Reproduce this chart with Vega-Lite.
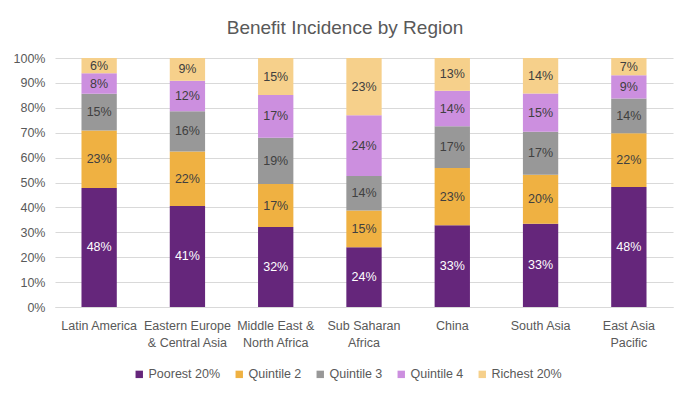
{
  "$schema": "https://vega.github.io/schema/vega-lite/v6.json",
  "width": 618,
  "height": 249,
  "autosize": {"type": "none"},
  "padding": {"left": 55, "top": 58, "right": 18, "bottom": 90},
  "title": {"text": "Benefit Incidence by Region", "fontSize": 19, "font": "Liberation Sans", "fontWeight": "normal", "color": "#595959", "anchor": "middle", "dx": -19, "offset": 14},
  "data": {"values": [
    {"region": "Latin America", "group": "Poorest 20%", "k": 1, "v": 0.478},
    {"region": "Latin America", "group": "Quintile 2", "k": 2, "v": 0.231},
    {"region": "Latin America", "group": "Quintile 3", "k": 3, "v": 0.147},
    {"region": "Latin America", "group": "Quintile 4", "k": 4, "v": 0.083},
    {"region": "Latin America", "group": "Richest 20%", "k": 5, "v": 0.061},
    {"region": "Eastern Europe & Central Asia", "group": "Poorest 20%", "k": 1, "v": 0.406},
    {"region": "Eastern Europe & Central Asia", "group": "Quintile 2", "k": 2, "v": 0.219},
    {"region": "Eastern Europe & Central Asia", "group": "Quintile 3", "k": 3, "v": 0.161},
    {"region": "Eastern Europe & Central Asia", "group": "Quintile 4", "k": 4, "v": 0.123},
    {"region": "Eastern Europe & Central Asia", "group": "Richest 20%", "k": 5, "v": 0.091},
    {"region": "Middle East & North Africa", "group": "Poorest 20%", "k": 1, "v": 0.321},
    {"region": "Middle East & North Africa", "group": "Quintile 2", "k": 2, "v": 0.173},
    {"region": "Middle East & North Africa", "group": "Quintile 3", "k": 3, "v": 0.186},
    {"region": "Middle East & North Africa", "group": "Quintile 4", "k": 4, "v": 0.171},
    {"region": "Middle East & North Africa", "group": "Richest 20%", "k": 5, "v": 0.149},
    {"region": "Sub Saharan Africa", "group": "Poorest 20%", "k": 1, "v": 0.240},
    {"region": "Sub Saharan Africa", "group": "Quintile 2", "k": 2, "v": 0.148},
    {"region": "Sub Saharan Africa", "group": "Quintile 3", "k": 3, "v": 0.138},
    {"region": "Sub Saharan Africa", "group": "Quintile 4", "k": 4, "v": 0.244},
    {"region": "Sub Saharan Africa", "group": "Richest 20%", "k": 5, "v": 0.230},
    {"region": "China", "group": "Poorest 20%", "k": 1, "v": 0.328},
    {"region": "China", "group": "Quintile 2", "k": 2, "v": 0.230},
    {"region": "China", "group": "Quintile 3", "k": 3, "v": 0.168},
    {"region": "China", "group": "Quintile 4", "k": 4, "v": 0.142},
    {"region": "China", "group": "Richest 20%", "k": 5, "v": 0.132},
    {"region": "South Asia", "group": "Poorest 20%", "k": 1, "v": 0.334},
    {"region": "South Asia", "group": "Quintile 2", "k": 2, "v": 0.197},
    {"region": "South Asia", "group": "Quintile 3", "k": 3, "v": 0.173},
    {"region": "South Asia", "group": "Quintile 4", "k": 4, "v": 0.153},
    {"region": "South Asia", "group": "Richest 20%", "k": 5, "v": 0.143},
    {"region": "East Asia Pacific", "group": "Poorest 20%", "k": 1, "v": 0.482},
    {"region": "East Asia Pacific", "group": "Quintile 2", "k": 2, "v": 0.216},
    {"region": "East Asia Pacific", "group": "Quintile 3", "k": 3, "v": 0.139},
    {"region": "East Asia Pacific", "group": "Quintile 4", "k": 4, "v": 0.094},
    {"region": "East Asia Pacific", "group": "Richest 20%", "k": 5, "v": 0.069}
  ]},
  "transform": [
    {"stack": "v", "groupby": ["region"], "sort": [{"field": "k", "order": "ascending"}], "as": ["y0", "y1"]}
  ],
  "encoding": {
    "x": {
      "field": "region", "type": "nominal", "sort": null, "title": null,
      "scale": {"paddingInner": 0.6, "paddingOuter": 0.3},
      "axis": {
        "labelAngle": 0, "ticks": false, "domainColor": "#d9d9d9", "labelColor": "#595959",
        "labelFontSize": 12.5, "labelFont": "Liberation Sans", "labelPadding": 12, "labelLineHeight": 17,
        "labelBaseline": "top",
        "labelExpr": "datum.value == 'Eastern Europe & Central Asia' ? ['Eastern Europe', '& Central Asia'] : datum.value == 'Middle East & North Africa' ? ['Middle East &', 'North Africa'] : datum.value == 'Sub Saharan Africa' ? ['Sub Saharan', 'Africa'] : datum.value == 'East Asia Pacific' ? ['East Asia', 'Pacific'] : datum.value"
      }
    }
  },
  "layer": [
    {
      "mark": {"type": "bar"},
      "encoding": {
        "y": {"field": "y1", "type": "quantitative", "title": null,
          "scale": {"domain": [0, 1], "nice": false},
          "axis": {"format": ".0%", "values": [0,0.1,0.2,0.3,0.4,0.5,0.6,0.7,0.8,0.9,1], "labelOverlap": false, "ticks": false, "domain": false, "gridColor": "#d9d9d9", "labelColor": "#595959", "labelFontSize": 12.5, "labelFont": "Liberation Sans", "labelPadding": 10}},
        "y2": {"field": "y0"},
        "color": {
          "field": "group", "type": "nominal", "title": null,
          "scale": {"domain": ["Poorest 20%", "Quintile 2", "Quintile 3", "Quintile 4", "Richest 20%"],
                    "range": ["#65267B", "#EFB142", "#989898", "#CC8FDF", "#F6D08B"]},
          "legend": {"orient": "none", "legendX": 78, "legendY": 310, "direction": "horizontal",
                     "symbolType": "square", "symbolSize": 55, "symbolStrokeWidth": 0,
                     "labelFontSize": 12.5, "labelFont": "Liberation Sans", "labelColor": "#595959", "columnPadding": 12, "labelOffset": 3}
        }
      }
    },
    {
      "transform": [{"calculate": "(datum.y0 + datum.y1) / 2", "as": "ymid"}],
      "mark": {"type": "text", "fontSize": 12.5, "font": "Liberation Sans", "baseline": "middle"},
      "encoding": {
        "y": {"field": "ymid", "type": "quantitative", "title": null,
          "scale": {"domain": [0, 1], "nice": false},
          "axis": {"format": ".0%", "values": [0,0.1,0.2,0.3,0.4,0.5,0.6,0.7,0.8,0.9,1], "labelOverlap": false, "ticks": false, "domain": false, "gridColor": "#d9d9d9", "labelColor": "#595959", "labelFontSize": 12.5, "labelFont": "Liberation Sans", "labelPadding": 10}},
        "text": {"field": "v", "type": "quantitative", "format": ".0%"},
        "color": {"condition": {"test": "datum.k == 1", "value": "#ffffff"}, "value": "#404040"}
      }
    }
  ],
  "config": {"view": {"stroke": null}, "background": "#ffffff"}
}
